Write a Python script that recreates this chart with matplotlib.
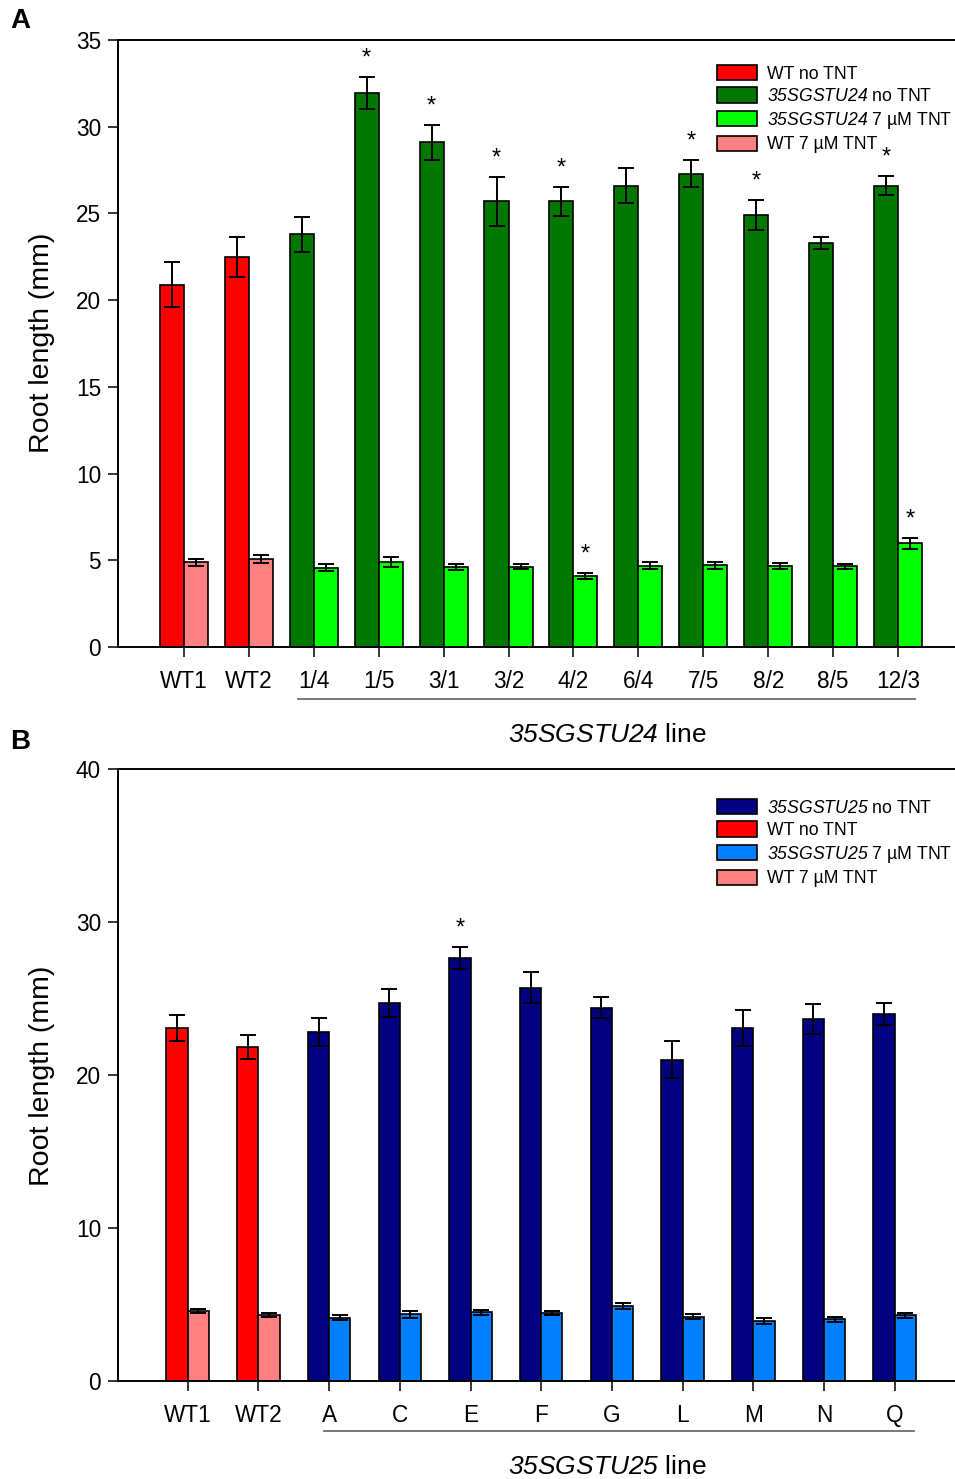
import matplotlib
matplotlib.use("Agg")
import matplotlib.pyplot as plt
from matplotlib.patches import Patch
import matplotlib.transforms as mtransforms
import numpy as np

plt.rcParams["font.family"] = ["Liberation Sans", "DejaVu Sans"]
# gene names are typeset in italics (digits included)
plt.rcParams["mathtext.fontset"] = "custom"
plt.rcParams["mathtext.it"] = "Liberation Sans:italic"
plt.rcParams["mathtext.rm"] = "Liberation Sans:italic"

# ---- Panel A: 35SGSTU24 lines ----
lines_a = ["WT1", "WT2", "1/4", "1/5", "3/1", "3/2", "4/2", "6/4", "7/5", "8/2", "8/5", "12/3"]
no_tnt_a = [20.9, 22.5, 23.8, 31.95, 29.1, 25.7, 25.7, 26.6, 27.3, 24.9, 23.3, 26.6]
no_tnt_a_err = [1.3, 1.15, 1.0, 0.9, 1.0, 1.4, 0.85, 1.0, 0.8, 0.85, 0.35, 0.55]
tnt_a = [4.88, 5.06, 4.57, 4.9, 4.6, 4.63, 4.09, 4.69, 4.71, 4.69, 4.65, 5.98]
tnt_a_err = [0.2, 0.23, 0.2, 0.3, 0.17, 0.15, 0.18, 0.2, 0.2, 0.17, 0.15, 0.32]
sig_no_tnt_a = ["1/5", "3/1", "3/2", "4/2", "7/5", "8/2", "12/3"]
sig_tnt_a = ["4/2", "12/3"]

# ---- Panel B: 35SGSTU25 lines ----
lines_b = ["WT1", "WT2", "A", "C", "E", "F", "G", "L", "M", "N", "Q"]
no_tnt_b = [23.07, 21.83, 22.8, 24.7, 27.65, 25.7, 24.4, 21.0, 23.07, 23.66, 23.99]
no_tnt_b_err = [0.85, 0.8, 0.9, 0.9, 0.7, 1.0, 0.7, 1.2, 1.2, 1.0, 0.7]
tnt_b = [4.58, 4.31, 4.14, 4.36, 4.49, 4.45, 4.9, 4.2, 3.94, 4.03, 4.29]
tnt_b_err = [0.13, 0.13, 0.15, 0.22, 0.17, 0.15, 0.22, 0.16, 0.2, 0.15, 0.15]
sig_no_tnt_b = ["E"]
sig_tnt_b = []

WT_LINES = ["WT1", "WT2"]
RED, PINK = "#FF0000", "#FF8080"
DKGREEN, LTGREEN = "#007800", "#00FF00"
NAVY, LTBLUE = "#000080", "#0080FF"

fig = plt.figure(figsize=(9.55, 14.79), dpi=100)
axA = fig.add_axes([118 / 955, 1 - 647 / 1479, 837 / 955, 607 / 1479])
axB = fig.add_axes([118 / 955, 1 - 1381 / 1479, 837 / 955, 612 / 1479])


def draw_panel(ax, cats, ctrl, ctrl_err, tnt, tnt_err, sig_ctrl, sig_tnt,
               line_ctrl_col, line_tnt_col, width, xlim, ylim, yticks):
    x = np.arange(len(cats))
    is_wt = np.array([c in WT_LINES for c in cats])
    ctrl_cols = [RED if w else line_ctrl_col for w in is_wt]
    tnt_cols = [PINK if w else line_tnt_col for w in is_wt]
    ekw = dict(ecolor="black", elinewidth=1.4, capthick=1.4, capsize=6)
    ax.bar(x - width / 2, ctrl, width, color=ctrl_cols, edgecolor="black",
           linewidth=1.2, yerr=ctrl_err, error_kw=ekw, zorder=2)
    ax.bar(x + width / 2, tnt, width, color=tnt_cols, edgecolor="black",
           linewidth=1.2, yerr=tnt_err, error_kw=ekw, zorder=2)
    for i, c in enumerate(cats):
        if c in sig_ctrl:
            ax.annotate("*", xy=(x[i] - width / 2, ctrl[i] + ctrl_err[i]),
                        xytext=(0, 9), textcoords="offset points",
                        ha="center", va="baseline", fontsize=17)
        if c in sig_tnt:
            ax.annotate("*", xy=(x[i] + width / 2, tnt[i] + tnt_err[i]),
                        xytext=(0, 9), textcoords="offset points",
                        ha="center", va="baseline", fontsize=17)
    ax.set_xlim(*xlim)
    ax.set_ylim(*ylim)
    ax.set_yticks(yticks)
    ax.set_xticks(x)
    ax.set_xticklabels(cats)
    ax.spines["right"].set_visible(False)
    for s in ("left", "bottom", "top"):
        ax.spines[s].set_linewidth(1.4)
    ax.tick_params(axis="both", direction="out", length=7.2, width=1.1,
                   labelsize=16.3)
    ax.tick_params(axis="x", pad=9.5)
    ax.tick_params(axis="y", pad=5)
    ax.tick_params(top=False, right=False)


draw_panel(axA, lines_a, no_tnt_a, no_tnt_a_err, tnt_a, tnt_a_err,
           sig_no_tnt_a, sig_tnt_a, DKGREEN, LTGREEN, 0.37,
           (-1.015, 11.877), (0, 35), range(0, 36, 5))
draw_panel(axB, lines_b, no_tnt_b, no_tnt_b_err, tnt_b, tnt_b_err,
           sig_no_tnt_b, sig_tnt_b, NAVY, LTBLUE, 0.30,
           (-0.986, 10.853), (0, 40), range(0, 41, 10))

# bracket line under the transgenic lines
for ax, x0, x1, yline in ((axA, 1.75, 11.26, -0.0857), (axB, 1.93, 10.28, -0.0817)):
    tr = mtransforms.blended_transform_factory(ax.transData, ax.transAxes)
    ax.plot([x0, x1], [yline, yline], transform=tr, color="#6E6E6E",
            lw=1.3, clip_on=False)

fig.text(607 / 955, 1 - 735 / 1479, r"$\mathit{35SGSTU24}$ line",
         ha="center", va="center", fontsize=19)
fig.text(607 / 955, 1 - 1467 / 1479, r"$\mathit{35SGSTU25}$ line",
         ha="center", va="center", fontsize=19)

fig.text(42 / 955, 1 - 343 / 1479, "Root length (mm)", rotation=90,
         ha="center", va="center", fontsize=20.5)
fig.text(42 / 955, 1 - 1076 / 1479, "Root length (mm)", rotation=90,
         ha="center", va="center", fontsize=20.5)

fig.text(10 / 955, 1 - 21 / 1479, "A", ha="left", va="center",
         fontsize=20, fontweight="bold")
fig.text(10 / 955, 1 - 742 / 1479, "B", ha="left", va="center",
         fontsize=20, fontweight="bold")


def patch(c):
    return Patch(facecolor=c, edgecolor="black", linewidth=1.2)


leg_kw = dict(loc="upper left", frameon=False, fontsize=12.7,
              handlelength=2.27, handleheight=0.95, handletextpad=0.55,
              labelspacing=0.27, borderpad=0, borderaxespad=0)
axA.legend([patch(RED), patch(DKGREEN), patch(LTGREEN), patch(PINK)],
           ["WT no TNT", r"$\mathit{35SGSTU24}$ no TNT",
            r"$\mathit{35SGSTU24}$ 7 µM TNT", "WT 7 µM TNT"],
           bbox_to_anchor=((717 - 118) / 837, (647 - 65) / 607), **leg_kw)
axB.legend([patch(NAVY), patch(RED), patch(LTBLUE), patch(PINK)],
           [r"$\mathit{35SGSTU25}$ no TNT", "WT no TNT",
            r"$\mathit{35SGSTU25}$ 7 µM TNT", "WT 7 µM TNT"],
           bbox_to_anchor=((717 - 118) / 837, (1381 - 799) / 612), **leg_kw)

fig.savefig("out.png", dpi=100)
